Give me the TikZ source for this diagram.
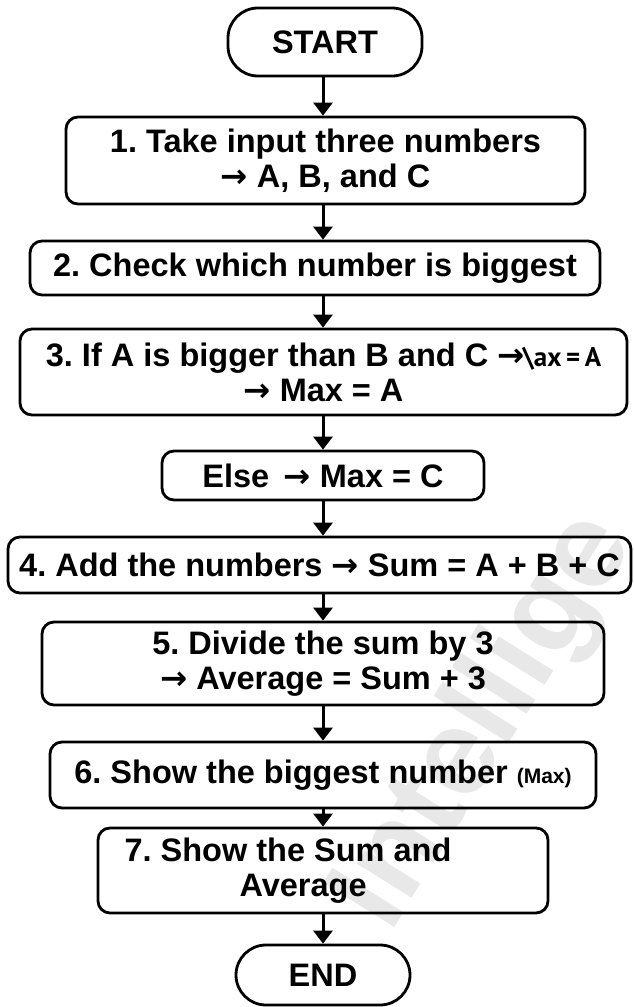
\documentclass[tikz,border=0pt]{standalone}
\usepackage{fontspec}
\setmainfont{Liberation Sans}
\newfontfamily\arrfont{DejaVu Sans}
\newfontfamily\narrowfont{PT Sans}
\usetikzlibrary{arrows.meta}
\newcommand{\ar}{{\arrfont →}}
\begin{document}
\frenchspacing
\begin{tikzpicture}[x=1pt,y=-1pt,
  box/.style={draw=black,line width=2.8pt,rounded corners=12pt,inner sep=0pt,align=center,
    font=\fontsize{32.5}{35}\selectfont\bfseries},
  term/.style={box,rounded corners=30pt},
  flow/.style={line width=3pt,-{Triangle[length=13pt,width=19pt]}}]
\useasboundingbox (0,0) rectangle (633,1007);
\fill[white] (0,0) rectangle (633,1007);
% watermark
\node[rotate=58,text=black!9,font=\fontsize{122}{122}\selectfont\bfseries,anchor=south west,inner sep=0pt] (wm) at (412,948) {Intellige};
\coordinate (col) at (323,0);
\node[term,minimum width=194pt,minimum height=68pt] (start) at (325,42) {START};
\node[box,minimum width=519pt,minimum height=87pt] (b1) at (325.5,160.5) {1. Take input three numbers\\ \ar{} A, B, and C};
\node[box,minimum width=570pt,minimum height=54pt] (b2) at (315,268) {2. Check which number is biggest};
\node[box,minimum width=607pt,minimum height=86pt] (b3) at (323.5,372) {3. If A is bigger than B and C \ar{\narrowfont\kern-2pt\fontsize{27}{30}\selectfont\textbackslash ax\,=\,A}\\ \ar{} Max = A};
\node[box,minimum width=322pt,minimum height=49pt] (b3e) at (323,475.5) {Else \,\ar{} Max = C};
\node[box,minimum width=623pt,minimum height=56pt] (b4) at (319.5,565) {4. Add the numbers \ar{} Sum = A + B + C};
\node[box,minimum width=562pt,minimum height=83pt] (b5) at (323,663.5) {5. Divide the sum by 3\\ \ar{} Average = Sum + 3};
\node[box,minimum width=546pt,minimum height=66pt] (b6) at (323,775) {6. Show the biggest number {\fontsize{21}{24}\selectfont(Max)}};
\node[box,align=left,minimum width=450pt,minimum height=85pt] (b7) at (323,870.5) {7. Show the Sum and\hspace*{70pt}\\ \hspace*{115pt}Average};
\node[term,minimum width=174pt,minimum height=60pt] (end) at (323,975) {END};
\foreach \a/\b in {start/b1,b1/b2,b2/b3,b3/b3e,b3e/b4,b4/b5,b5/b6,b6/b7,b7/end}
  \draw[flow] (\a.south -| col) -- (\b.north -| col);
\end{tikzpicture}
\end{document}
